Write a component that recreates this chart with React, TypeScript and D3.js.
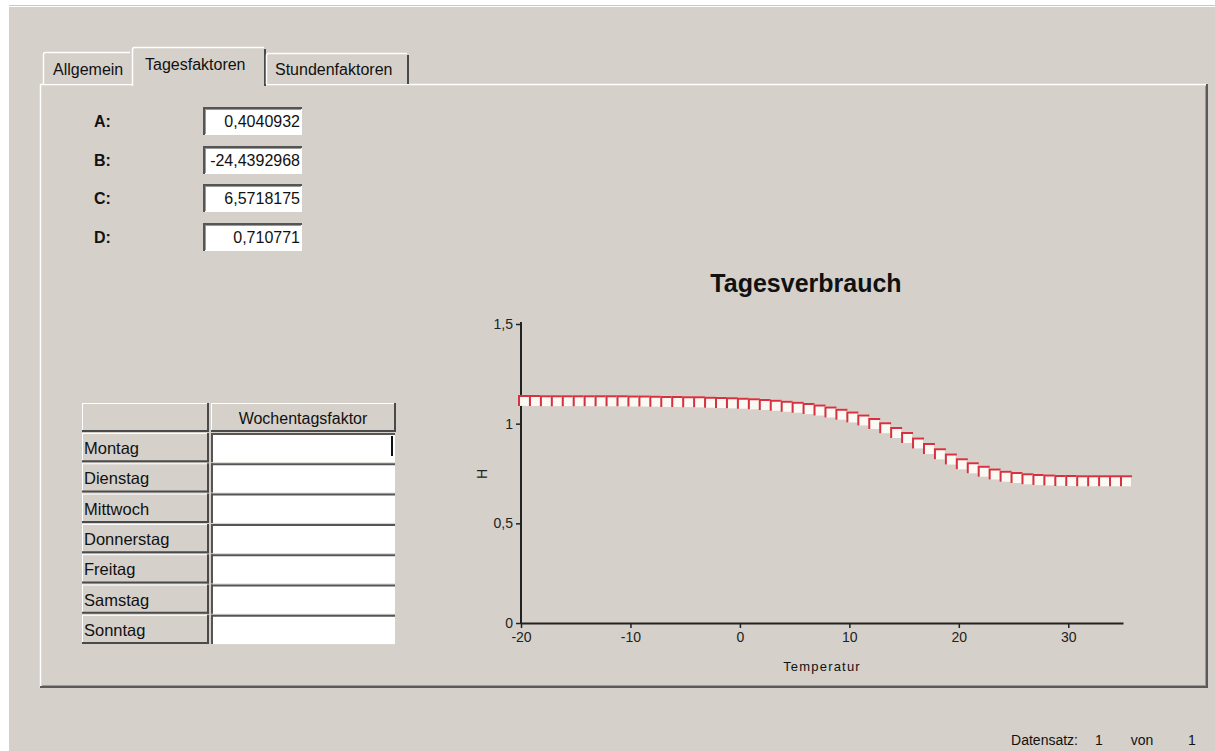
import React, { useEffect, useRef } from "react";
import * as d3 from "d3";

// chart data
const temperatures = [
    -20, -19, -18, -17, -16, -15, -14, -13, -12, -11, -10, -9, -8, -7, -6, -5, -4, -3, -2, -1,
    0, 1, 2, 3, 4, 5, 6, 7, 8, 9, 10, 11, 12, 13, 14, 15, 16, 17, 18, 19,
    20, 21, 22, 23, 24, 25, 26, 27, 28, 29, 30, 31, 32, 33, 34, 35
];
const hValues = [
    1.114, 1.114, 1.113, 1.113, 1.113, 1.113, 1.113, 1.112, 1.112, 1.112,
    1.111, 1.111, 1.110, 1.109, 1.109, 1.108, 1.107, 1.105, 1.104, 1.102,
    1.100, 1.097, 1.094, 1.090, 1.085, 1.080, 1.073, 1.066, 1.056, 1.045,
    1.031, 1.016, 0.998, 0.977, 0.953, 0.928, 0.901, 0.873, 0.846, 0.820,
    0.796, 0.776, 0.759, 0.745, 0.734, 0.727, 0.721, 0.717, 0.715, 0.713,
    0.712, 0.711, 0.711, 0.711, 0.711, 0.711
];
const xTickValues = [-20, -10, 0, 10, 20, 30];
const yTickValues = [0, 0.5, 1, 1.5];

// form content
const tabLabels = ["Allgemein", "Tagesfaktoren", "Stundenfaktoren"];
const coefficientNames = ["A:", "B:", "C:", "D:"];
const coefficientValues = ["0,4040932", "-24,4392968", "6,5718175", "0,710771"];
const weekdays = ["Montag", "Dienstag", "Mittwoch", "Donnerstag", "Freitag", "Samstag", "Sonntag"];
const tableHeader = "Wochentagsfaktor";

const W = 1215;
const H = 751;
const BG = "#d5d0ca";
const FONT = "'Liberation Sans', Arial, sans-serif";

export default function App() {
    const svgRef = useRef(null);

    useEffect(() => {
        const svg = d3.select(svgRef.current);
        svg.selectAll("*").remove();

        const line = (x1, y1, x2, y2, color, w = 1) =>
            svg.append("line")
                .attr("x1", x1).attr("y1", y1).attr("x2", x2).attr("y2", y2)
                .attr("stroke", color).attr("stroke-width", w);

        const text = (x, y, s, size = 16, anchor = "start", weight = "normal") =>
            svg.append("text")
                .attr("x", x).attr("y", y)
                .attr("text-anchor", anchor)
                .style("font-family", FONT)
                .style("font-size", `${size}px`)
                .style("font-weight", weight)
                .attr("fill", "#111")
                .text(s);

        // raised button look
        const raised = (x, y, w, h) => {
            svg.append("rect").attr("x", x).attr("y", y).attr("width", w).attr("height", h).attr("fill", BG);
            line(x, y + 0.5, x + w, y + 0.5, "#fff");
            line(x + 0.5, y, x + 0.5, y + h, "#fff");
            line(x, y + h - 1, x + w, y + h - 1, "#4a4a4a", 2);
            line(x + w - 1, y, x + w - 1, y + h, "#4a4a4a", 2);
        };

        // sunken edit box look
        const sunken = (x, y, w, h) => {
            svg.append("rect").attr("x", x).attr("y", y).attr("width", w).attr("height", h).attr("fill", "#fff");
            line(x, y + 1, x + w, y + 1, "#555", 2);
            line(x + 1, y, x + 1, y + h, "#555", 2);
            line(x + 2, y + 2.5, x + w - 1, y + 2.5, "#999");
            line(x + 2.5, y + 2, x + 2.5, y + h - 1, "#999");
        };

        // page and window background
        svg.append("rect").attr("width", W).attr("height", H).attr("fill", "#fff");
        svg.append("rect").attr("x", 9).attr("y", 7).attr("width", W - 9).attr("height", H - 7).attr("fill", BG);
        line(9, 5.5, W, 5.5, "#c4c8d0");

        // tab panel
        const px = 40, py = 84, pw = 1168, ph = 604;
        line(px, py + 0.5, px + pw, py + 0.5, "#fff", 1.5);
        line(px + 0.5, py, px + 0.5, py + ph, "#fff", 1.5);
        line(px, py + ph - 1, px + pw, py + ph - 1, "#5a5a5a", 2);
        line(px + pw - 1, py, px + pw - 1, py + ph, "#5a5a5a", 2);
        line(px + 2, py + ph - 2.5, px + pw - 2, py + ph - 2.5, "#9a9a9a");
        line(px + pw - 2.5, py + 2, px + pw - 2.5, py + ph - 2, "#9a9a9a");

        // tabs
        const tabs = [
            { x: 43, w: 89, top: 52, tx: 53, ty: 75 },
            { x: 132, w: 134, top: 47, tx: 145, ty: 70, selected: true },
            { x: 266, w: 143, top: 53, tx: 275, ty: 75 }
        ];
        tabs.forEach((t, i) => {
            const bottom = t.selected ? py + 2 : py;
            svg.append("rect").attr("x", t.x).attr("y", t.top).attr("width", t.w).attr("height", bottom - t.top).attr("fill", BG);
            svg.append("path")
                .attr("d", `M${t.x + 0.5},${bottom} V${t.top + 2.5} Q${t.x + 0.5},${t.top + 0.5} ${t.x + 2.5},${t.top + 0.5} H${t.x + t.w - 2}`)
                .attr("fill", "none").attr("stroke", "#fff").attr("stroke-width", 1.5);
            if (i > 0) line(t.x + t.w - 1, t.top + 2, t.x + t.w - 1, bottom, "#4a4a4a", 2);
            text(t.tx, t.ty, tabLabels[i], 16);
        });

        // coefficient fields
        const boxTops = [107, 146, 184, 223];
        coefficientNames.forEach((name, i) => {
            text(94, boxTops[i] + 20, name, 16, "start", "bold");
            sunken(203, boxTops[i], 99, 28);
            text(300, boxTops[i] + 20, coefficientValues[i], 16, "end");
        });

        // weekday table
        raised(82, 403, 127, 29);
        raised(211, 403, 185, 29);
        text(303, 424, tableHeader, 16, "middle");
        const rowPitch = 30.3;
        weekdays.forEach((d, i) => {
            const y = 433 + i * rowPitch;
            raised(82, y, 127, rowPitch - 1);
            text(84, y + 21, d, 16.5);
            svg.append("rect").attr("x", 211).attr("y", y).attr("width", 184).attr("height", rowPitch - 1).attr("fill", "#fff");
            line(211, y + 1, 395, y + 1, "#555", 2);
            line(212, y, 212, y + rowPitch - 1, "#555", 2);
        });
        line(392, 436, 392, 456, "#111", 2);

        // chart
        const x = d3.scaleLinear().domain([-20, 35]).range([521, 1123]);
        const y = d3.scaleLinear().domain([0, 1.5]).range([623, 324]);
        const fmt = d => String(d).replace(".", ",");

        const yAxis = svg.append("g")
            .attr("transform", `translate(${x(-20)},0)`)
            .call(d3.axisLeft(y).tickValues(yTickValues).tickFormat(fmt).tickSize(5).tickSizeOuter(0).tickPadding(3));
        const xAxis = svg.append("g")
            .attr("transform", `translate(0,${y(0)})`)
            .call(d3.axisBottom(x).tickValues(xTickValues).tickFormat(fmt).tickSize(5).tickSizeOuter(0).tickPadding(4));
        [xAxis, yAxis].forEach(a => {
            a.select(".domain").attr("stroke", "#222").attr("stroke-width", 2);
            a.selectAll(".tick line").attr("stroke", "#222").attr("stroke-width", 1.5);
            a.selectAll(".tick text")
                .attr("fill", "#222")
                .style("font-family", FONT)
                .style("font-size", "14px");
        });
        yAxis.select(".domain").attr("d", `M0,${y(0)}V${y(1.5) - 2}`);

        text(806, 292, "Tagesverbrauch", 25, "middle", "bold");
        text(822, 671, "Temperatur", 13, "middle").style("letter-spacing", "1.2px");
        svg.append("text")
            .attr("transform", `translate(487,474) rotate(-90)`)
            .attr("text-anchor", "middle")
            .style("font-family", FONT)
            .style("font-size", "14px")
            .attr("fill", "#222")
            .text("H");

        // square markers: white face, red top and left edge
        const mw = x(-19) - x(-20);
        const mh = 11;
        temperatures.forEach((t, i) => {
            const left = x(t) - 3;
            const top = y(hValues[i]) - 6;
            svg.append("rect")
                .attr("x", left).attr("y", top)
                .attr("width", mw).attr("height", mh)
                .attr("fill", "#fbf9f4");
            svg.append("path")
                .attr("d", `M${left + 1},${top + mh} V${top + 1} H${left + mw + 1}`)
                .attr("fill", "none")
                .attr("stroke", "#d8303e")
                .attr("stroke-width", 2);
        });

        // record navigator text
        text(1078, 745, "Datensatz:", 14, "end");
        text(1099, 745, "1", 14, "middle");
        text(1142, 745, "von", 14, "middle");
        text(1192, 745, "1", 14, "middle");
    }, []);

    return (
        <svg
            ref={svgRef}
            width={W}
            height={H}
            style={{ position: "absolute", left: 0, top: 0, display: "block" }}
        />
    );
}
